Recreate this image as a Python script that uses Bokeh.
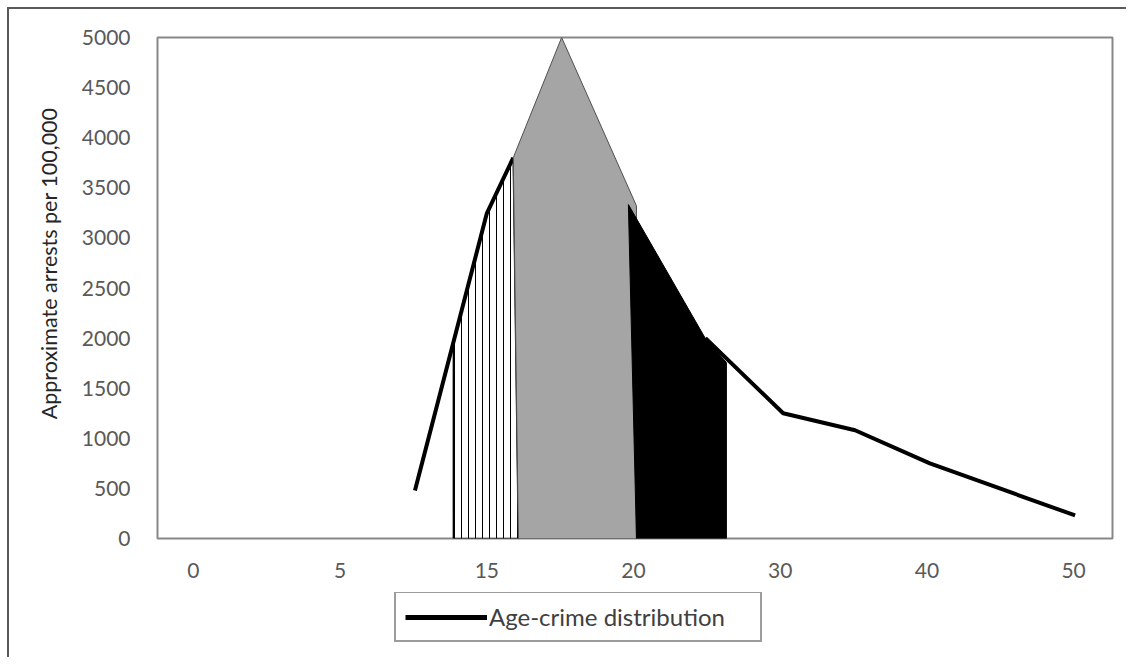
from bokeh.plotting import figure
from bokeh.layouts import column
from bokeh.models import Range1d, FixedTicker, Legend, LegendItem, Title
from bokeh.embed import file_html
from bokeh.resources import INLINE

# ---- data (category positions on the age axis; values = arrests per 100,000) ----
age_labels = ["0", "5", "15", "20", "30", "40", "50"]
age_positions = [0, 1, 2, 3, 4, 5, 6]
rate_ticks = [0, 500, 1000, 1500, 2000, 2500, 3000, 3500, 4000, 4500, 5000]

curve_pos = [1.51, 2.0, 2.18, 2.51, 3.02, 3.49, 4.02, 4.51, 5.02, 6.01]
curve_rate = [480, 3245, 3800, 5000, 3320, 2000, 1250, 1080, 750, 230]

# shaded bands under the curve
hatch_pos = [1.772, 1.772, 2.0, 2.18, 2.215]
hatch_rate = [0, 1959, 3245, 3800, 0]
gray_pos = [2.215, 2.18, 2.51, 3.02, 3.02]
gray_rate = [0, 3800, 5000, 3320, 0]
black_pos = [2.965, 3.49, 3.633, 3.633, 3.02]
black_rate = [3333, 1996, 1756, 0, 0]

series_name = "Age-crime distribution"
y_title = "Approximate arrests per 100,000"

FONT = "Lato"
W = 1117

p = figure(width=W, height=583, output_backend="svg", toolbar_location=None,
           x_range=Range1d(-0.245, 6.265), y_range=Range1d(0, 5000),
           min_border_left=148, min_border_top=28, min_border_right=14,
           min_border_bottom=54)

p.grid.visible = False
p.outline_line_color = "#878787"
p.outline_line_width = 2
p.background_fill_color = "white"
p.border_fill_color = "white"

# axes
p.xaxis.ticker = FixedTicker(ticks=age_positions)
p.xaxis.major_label_overrides = {pos: lab for pos, lab in zip(age_positions, age_labels)}
p.yaxis.ticker = FixedTicker(ticks=rate_ticks)
for ax in (p.xaxis, p.yaxis):
    ax.axis_line_color = None
    ax.major_tick_line_color = None
    ax.minor_tick_line_color = None
    ax.major_tick_out = 0
    ax.major_tick_in = 0
    ax.major_label_text_font = FONT
    ax.major_label_text_color = "#595959"
p.xaxis.major_label_text_font_size = "21px"
p.xaxis.major_label_standoff = 24
p.yaxis.major_label_text_font_size = "21px"
p.yaxis.major_label_standoff = 27

# y axis title (placed a little above the frame centre, as in the original)
p.add_layout(Title(text=y_title, align="right", offset=70, standoff=33,
                   text_font=FONT, text_font_size="21.5px", text_font_style="normal",
                   text_color="#262626"), "left")

# hatched band
p.patch(hatch_pos, hatch_rate, fill_color="white", hatch_pattern="|",
        hatch_color="black", hatch_weight=1, hatch_scale=7,
        line_color="black", line_width=1.5)

# the curve, rising part
p.line(curve_pos[:3], curve_rate[:3], line_color="black", line_width=4)

# gray band
p.patch(gray_pos, gray_rate, fill_color="#a5a5a5", line_color="#505050", line_width=1)
# black band
p.patch(black_pos, black_rate, fill_color="black", line_color="black", line_width=1)

# the curve, falling part
p.line(curve_pos[5:], curve_rate[5:], line_color="black", line_width=4)

# ---- legend strip below the chart ----
q = figure(width=W, height=65, output_backend="svg", toolbar_location=None,
           x_range=Range1d(0, 1), y_range=Range1d(0, 1),
           min_border_left=0, min_border_right=0, min_border_top=0, min_border_bottom=0)
q.axis.visible = False
q.grid.visible = False
q.outline_line_color = None
q.background_fill_color = "white"
q.border_fill_color = "white"
# legend key renderer (same style as the curve; kept outside the strip's view)
key = q.line(curve_pos[:2], [-10, -10], line_color="black", line_width=5)

legend = Legend(items=[LegendItem(label=series_name, renderers=[key])],
                location=(237, 15), padding=9, margin=0, spacing=0,
                glyph_width=82, glyph_height=20, label_standoff=2, label_width=262,
                label_height=20,
                label_text_font=FONT, label_text_font_size="24px",
                label_text_color="#404040", border_line_color="#3a3a3a",
                border_line_width=2, background_fill_color="white",
                background_fill_alpha=1)
q.add_layout(legend, "center")

layout = column(p, q, spacing=0,
                styles={"margin-left": "7px", "margin-top": "7px",
                        "border-left": "2px solid #5a5a5a",
                        "border-top": "2px solid #5a5a5a"})

open("out.html", "w").write(file_html(layout, INLINE))
